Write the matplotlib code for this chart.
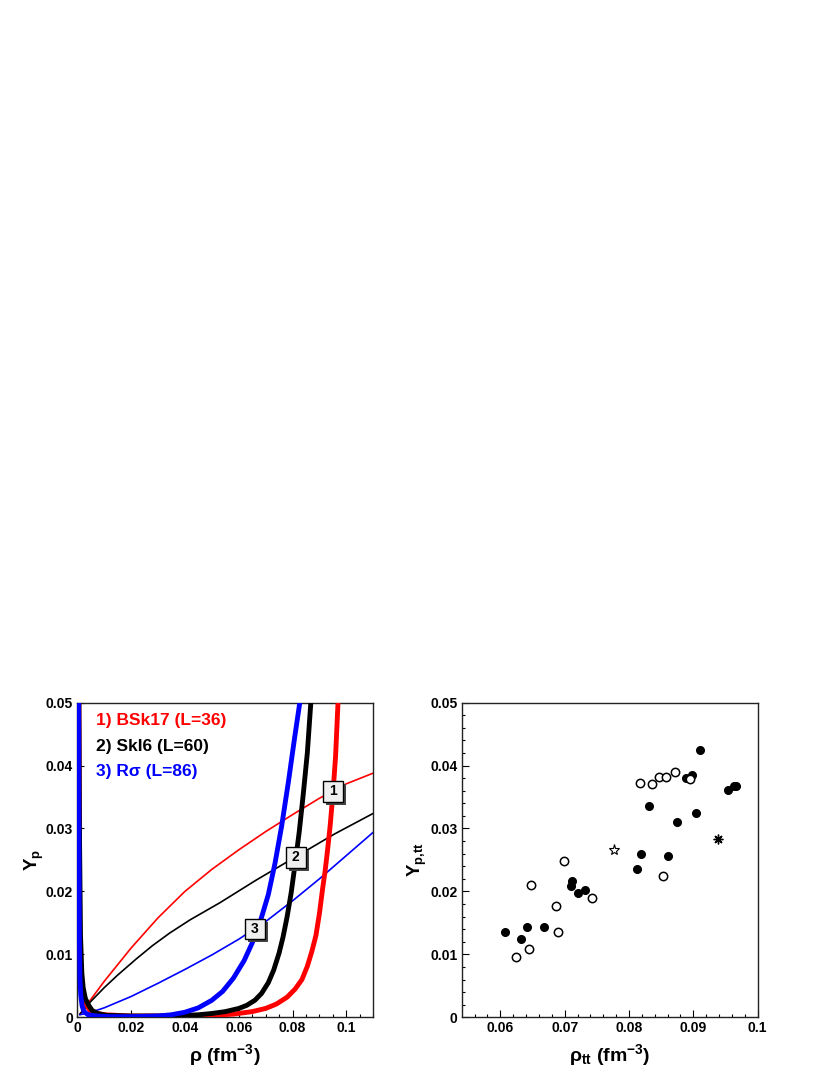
import numpy as np
import matplotlib.pyplot as plt
from matplotlib import transforms
from matplotlib.patches import Rectangle
from matplotlib.ticker import FixedLocator

plt.rcParams['font.family'] = ['Liberation Sans', 'DejaVu Sans']
plt.rcParams['font.weight'] = 'bold'
plt.rcParams['axes.labelweight'] = 'bold'
plt.rcParams['mathtext.fontset'] = 'custom'
plt.rcParams['mathtext.rm'] = 'Liberation Sans:bold'
plt.rcParams['mathtext.bf'] = 'Liberation Sans:bold'
plt.rcParams['mathtext.it'] = 'Liberation Sans:bold'
plt.rcParams['mathtext.default'] = 'bf'

# ---- left panel: Yp vs rho ----
# thin lines
rho_thin_red = [0.001, 0.01, 0.02, 0.03, 0.04, 0.05, 0.06, 0.07, 0.08, 0.09, 0.1, 0.11]
yp_thin_red = [0.0005, 0.0057, 0.011, 0.0158, 0.02, 0.0235, 0.0266, 0.0295, 0.0322, 0.0348, 0.0371, 0.0388]
rho_thin_black = [0.001, 0.005, 0.01, 0.015, 0.022, 0.028, 0.0344, 0.042, 0.053, 0.0665, 0.0812, 0.0955, 0.11]
yp_thin_black = [0.0005, 0.0025, 0.0047, 0.0067, 0.0093, 0.0114, 0.0134, 0.0155, 0.0182, 0.0218, 0.0255,
                 0.0291, 0.0324]
rho_thin_blue = [0.001, 0.005, 0.01, 0.02, 0.03, 0.04, 0.05, 0.06, 0.07, 0.08, 0.09, 0.1, 0.11]
yp_thin_blue = [0.0004, 0.0008, 0.0015, 0.0033, 0.0054, 0.0076, 0.0099, 0.0124, 0.0152, 0.0185, 0.022,
                0.0257, 0.0294]

# thick lines
rho_thick_red = [0.0006, 0.0009, 0.0013, 0.002, 0.003, 0.0045, 0.0065, 0.01, 0.02, 0.04, 0.05, 0.058,
                 0.065, 0.07, 0.074, 0.078, 0.081, 0.0835, 0.0855, 0.0872, 0.0887, 0.09, 0.0912,
                 0.0921, 0.093, 0.094, 0.0951, 0.096, 0.0969]
yp_thick_red = [0.05, 0.012, 0.006, 0.0035, 0.0022, 0.0012, 0.0007, 0.0004, 0.0002, 0.0002, 0.0003, 0.0005,
                0.0009, 0.0014, 0.0021, 0.0032, 0.0045, 0.006, 0.0081, 0.0105, 0.013, 0.0165, 0.0205,
                0.0232, 0.0265, 0.0305, 0.036, 0.0415, 0.05]
rho_thick_black = [0.0006, 0.0008, 0.0012, 0.0017, 0.0022, 0.003, 0.0041, 0.0055, 0.0075, 0.011, 0.02,
                   0.03, 0.04, 0.045, 0.05, 0.055, 0.06, 0.063, 0.066, 0.0685, 0.071, 0.073, 0.075,
                   0.0765, 0.078, 0.0795, 0.081, 0.0825, 0.084, 0.0855, 0.0868]
yp_thick_black = [0.05, 0.03, 0.013, 0.007, 0.0047, 0.003, 0.002, 0.0011, 0.0006, 0.0003, 0.0002,
                  0.0002, 0.0003, 0.0004, 0.0006, 0.0009, 0.0014, 0.0019, 0.0027, 0.0038, 0.0055, 0.0075,
                  0.0102, 0.0128, 0.016, 0.0198, 0.0245, 0.0295, 0.0355, 0.042, 0.05]
rho_thick_blue = [0.0005, 0.0006, 0.0008, 0.001, 0.0013, 0.0018, 0.0025, 0.004, 0.007, 0.012, 0.02, 0.03,
                  0.035, 0.04, 0.045, 0.05, 0.054, 0.058, 0.062, 0.065, 0.068, 0.071, 0.0735, 0.076,
                  0.0785, 0.0808, 0.0827]
yp_thick_blue = [0.05, 0.03, 0.012, 0.006, 0.0035, 0.0018, 0.0009, 0.0004, 0.0002, 0.0001, 0.0001, 0.0002,
                 0.0004, 0.0008, 0.0015, 0.0027, 0.0041, 0.0062, 0.009, 0.0118, 0.0152, 0.0195, 0.0245,
                 0.0305, 0.0375, 0.0445, 0.05]

legend_text = ['1) BSk17 (L=36)', '2) SkI6 (L=60)', '3) R\u03c3 (L=86)']
line_colors = ['#ff0000', 'black', '#0000ff']
box_labels = ['1', '2', '3']
box_rho = [0.0951, 0.0812, 0.066]
box_yp = [0.0359, 0.0254, 0.0141]

# ---- right panel: Yp,tt vs rho_tt ----
filled_rho = [0.0607, 0.0632, 0.0642, 0.0668, 0.0711, 0.071, 0.0721, 0.0731, 0.0813, 0.0819, 0.0831,
              0.0861, 0.0875, 0.0889, 0.0898, 0.0904, 0.0911, 0.0954, 0.0963, 0.0967]
filled_yp = [0.0135, 0.0125, 0.0143, 0.0143, 0.0217, 0.0208, 0.0198, 0.0202, 0.0236, 0.0259, 0.0335,
             0.0257, 0.031, 0.038, 0.0385, 0.0324, 0.0424, 0.0361, 0.0368, 0.0367]
open_rho = [0.0625, 0.0645, 0.0647, 0.0687, 0.0689, 0.0699, 0.0742, 0.0817, 0.0836, 0.0846, 0.0857,
            0.0872, 0.0895, 0.0853]
open_yp = [0.0095, 0.0108, 0.021, 0.0177, 0.0136, 0.0249, 0.0189, 0.0373, 0.037, 0.0382, 0.0382,
           0.039, 0.0378, 0.0224]
star_rho, star_yp = [0.0777], [0.0266]
aster_rho, aster_yp = [0.0938], [0.0283]

left_xticks = [0, 0.02, 0.04, 0.06, 0.08, 0.1]
left_xticklabels = ['0', '0.02', '0.04', '0.06', '0.08', '0.1']
yticks = [0, 0.01, 0.02, 0.03, 0.04, 0.05]
yticklabels = ['0', '0.01', '0.02', '0.03', '0.04', '0.05']
right_xticks = [0.06, 0.07, 0.08, 0.09, 0.1]
right_xticklabels = ['0.06', '0.07', '0.08', '0.09', '0.1']

fig = plt.figure(figsize=(8.3, 10.75), dpi=100)
ax1 = fig.add_axes([0.0931, 0.0537, 0.3566, 0.2927])
ax2 = fig.add_axes([0.5563, 0.0537, 0.3566, 0.2927])

for ax in (ax1, ax2):
    for s in ax.spines.values():
        s.set_linewidth(1.0)
        s.set_color('#222222')
    ax.tick_params(which='both', direction='in', top=False, right=False, labelsize=10, width=0.8)
    ax.tick_params(which='major', length=5, pad=3)
    ax.tick_params(which='minor', length=2.5)
    ax.set_ylim(0, 0.05)
    ax.yaxis.set_major_locator(FixedLocator(yticks))
    ax.set_yticklabels(yticklabels)

# left
ax1.plot(rho_thin_red, yp_thin_red, color=line_colors[0], lw=1.2, zorder=2)
ax1.plot(rho_thin_black, yp_thin_black, color=line_colors[1], lw=1.2, zorder=2)
ax1.plot(rho_thin_blue, yp_thin_blue, color=line_colors[2], lw=1.2, zorder=2)
ax1.plot(rho_thick_red, yp_thick_red, color=line_colors[0], lw=3.5, zorder=3)
ax1.plot(rho_thick_black, yp_thick_black, color=line_colors[1], lw=3.5, zorder=3)
ax1.plot(rho_thick_blue, yp_thick_blue, color=line_colors[2], lw=3.5, zorder=3)

ax1.set_xlim(0, 0.11)
ax1.xaxis.set_major_locator(FixedLocator(left_xticks))
ax1.set_xticklabels(left_xticklabels)
ax1.xaxis.set_minor_locator(FixedLocator(np.arange(0, 0.1101, 0.005)))
ax1.set_xlabel('\u03c1 (fm$^{-3}$)', fontsize=14, labelpad=5)
ax1.set_ylabel('Y$_{p}$', fontsize=13.5, labelpad=0)

for i, t in enumerate(legend_text):
    ax1.text(0.062, 0.942 - 0.08 * i, t, transform=ax1.transAxes, color=line_colors[i],
             fontsize=12.5, va='center', ha='left')

for lab, bx, by in zip(box_labels, box_rho, box_yp):
    base = fig.dpi_scale_trans + transforms.ScaledTranslation(bx, by, ax1.transData)
    ax1.add_patch(Rectangle((-0.07, -0.135), 0.2, 0.205, transform=base, fc='#444444',
                            ec='none', zorder=6, clip_on=False))
    ax1.add_patch(Rectangle((-0.1, -0.105), 0.2, 0.205, transform=base, fc='#efefef',
                            ec='black', lw=1, zorder=7, clip_on=False))
    ax1.text(bx, by, lab, ha='center', va='center', fontsize=10, zorder=8)

# right
ax2.plot(filled_rho, filled_yp, 'o', color='black', ms=5.5, zorder=3)
ax2.plot(open_rho, open_yp, 'o', mfc='white', mec='black', mew=1.1, ms=6, zorder=4)
ax2.plot(star_rho, star_yp, '*', mfc='white', mec='black', mew=0.8, ms=8, zorder=4)
ax2.plot(aster_rho, aster_yp, marker=(8, 2, 0), color='black', mew=1.0, ms=7, ls='none', zorder=4)

ax2.set_xlim(0.054, 0.1)
ax2.xaxis.set_major_locator(FixedLocator(right_xticks))
ax2.set_xticklabels(right_xticklabels)
ax2.xaxis.set_minor_locator(FixedLocator(np.arange(0.056, 0.1001, 0.002)))
ax2.yaxis.set_minor_locator(FixedLocator(np.arange(0, 0.0501, 0.002)))
ax2.set_xlabel('\u03c1$_{tt}$ (fm$^{-3}$)', fontsize=14, labelpad=5)
ax2.set_ylabel('Y$_{p{,}tt}$', fontsize=13.5, labelpad=1)

fig.savefig('out.png', dpi=100)
